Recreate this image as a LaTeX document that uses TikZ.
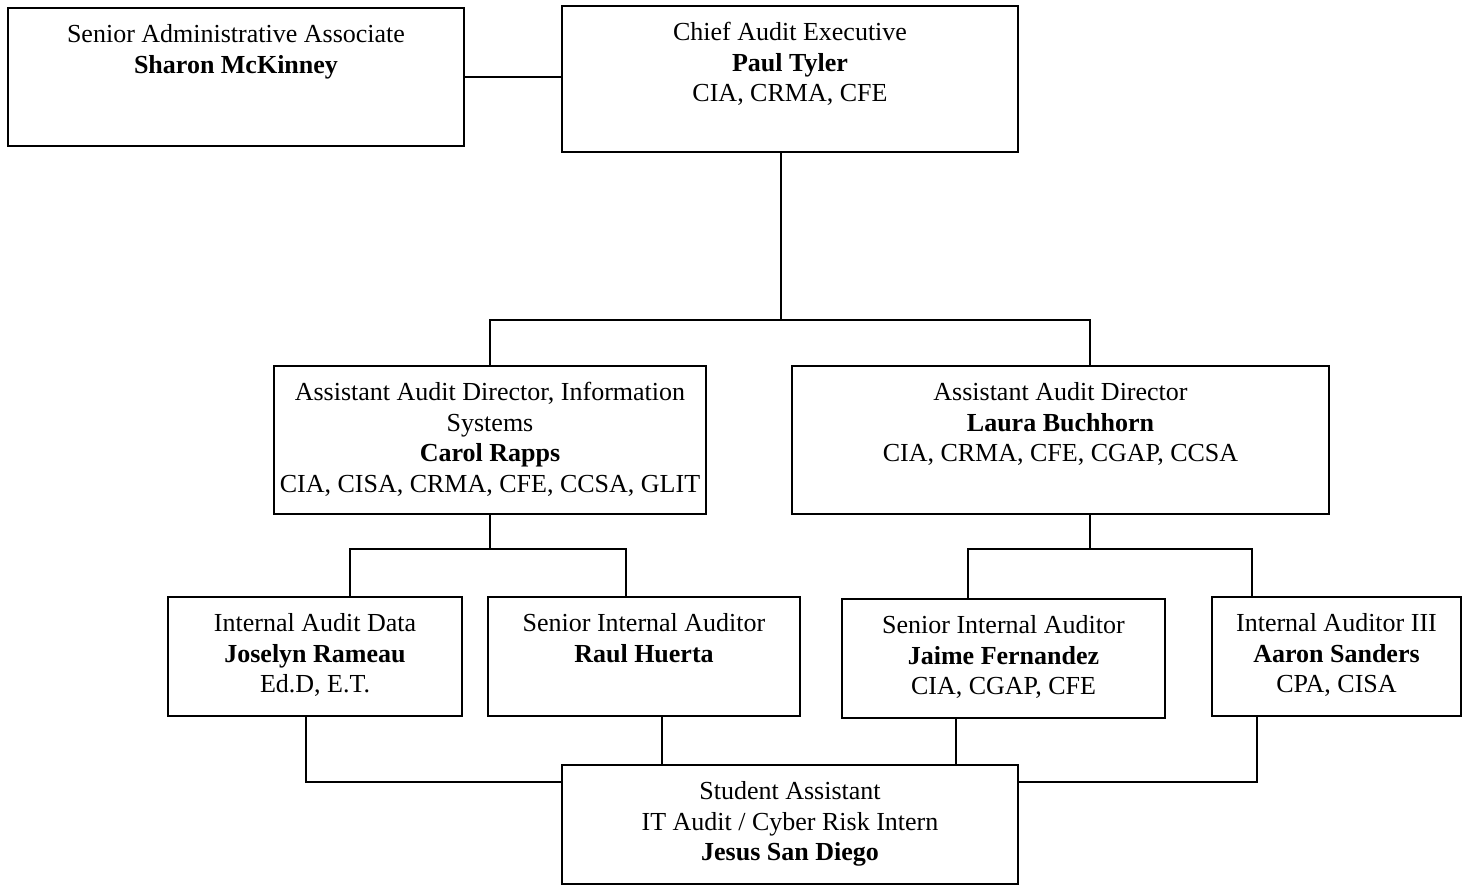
\documentclass[tikz,border=0pt]{standalone}
\usepackage{fontspec}
\setmainfont{Liberation Serif}
\newcommand\bxtext[3]{\parbox[c][#2][t]{#1}{\centering\fontsize{13pt}{15.2pt}\selectfont\rule{0pt}{17.5pt}#3\par}}
\begin{document}
\begin{tikzpicture}[x=0.5pt,y=-0.5pt,
  orgbox/.style={draw,line width=1pt,inner sep=0pt,outer sep=0pt},
  conn/.style={line width=0.9pt}]
\useasboundingbox (0,0) rectangle (1464,886);
% boxes
\node[orgbox] (A) at (236,77) {\bxtext{228pt}{69pt}{Senior Administrative Associate\\\textbf{Sharon McKinney}}};
\node[orgbox] (B) at (790,79) {\bxtext{228pt}{73pt}{Chief Audit Executive\\\textbf{Paul Tyler}\\CIA, CRMA, CFE}};
\node[orgbox] (C) at (490,440) {\bxtext{216pt}{74pt}{Assistant Audit Director, Information\\Systems\\\textbf{Carol Rapps}\\CIA, CISA, CRMA, CFE, CCSA, GLIT}};
\node[orgbox] (D) at (1060.5,440) {\bxtext{268.5pt}{74pt}{Assistant Audit Director\\\textbf{Laura Buchhorn}\\CIA, CRMA, CFE, CGAP, CCSA}};
\node[orgbox] (E) at (315,656.5) {\bxtext{147pt}{59.5pt}{Internal Audit Data\\\textbf{Joselyn Rameau}\\Ed.D, E.T.}};
\node[orgbox] (F) at (644,656.5) {\bxtext{156pt}{59.5pt}{Senior Internal Auditor\\\textbf{Raul Huerta}}};
\node[orgbox] (G) at (1003.5,658.5) {\bxtext{161.5pt}{59.5pt}{Senior Internal Auditor\\\textbf{Jaime Fernandez}\\CIA, CGAP, CFE}};
\node[orgbox] (H) at (1336.5,656.5) {\bxtext{124.5pt}{59.5pt}{Internal Auditor III\\\textbf{Aaron Sanders}\\CPA, CISA}};
\node[orgbox] (I) at (790,824.5) {\bxtext{228pt}{59.5pt}{Student Assistant\\IT Audit / Cyber Risk Intern\\\textbf{Jesus San Diego}}};
% helper coordinates
\coordinate (j1) at (0,320);
\coordinate (j2) at (0,549);
\coordinate (j4) at (0,782);
\coordinate (bbot) at ([xshift=-4.5pt]B.south);
\coordinate (dtop) at ([xshift=14.75pt]D.north);
\coordinate (dbot) at ([xshift=14.75pt]D.south);
\coordinate (etop) at ([xshift=17.5pt]E.north);
\coordinate (ftop) at ([xshift=-9pt]F.north);
\coordinate (gtop) at ([xshift=-17.75pt]G.north);
\coordinate (htop) at ([xshift=-42.25pt]H.north);
\coordinate (ebot) at ([xshift=-4.5pt]E.south);
\coordinate (fbot) at ([xshift=9pt]F.south);
\coordinate (gbot) at ([xshift=-23.75pt]G.south);
\coordinate (hbot) at ([xshift=-39.75pt]H.south);
% connectors
\draw[conn] (A.east) -- (A.east -| B.west);
\draw[conn] (bbot) -- (bbot |- j1);
\draw[conn] (C.north) |- (dtop |- j1) -- (dtop);
\draw[conn] (C.south) -- (C.south |- j2);
\draw[conn] (etop) |- (ftop |- j2) -- (ftop);
\draw[conn] (dbot) -- (dbot |- j2);
\draw[conn] (gtop) |- (htop |- j2) -- (htop);
\draw[conn] (ebot) |- (I.west |- j4);
\draw[conn] (fbot) -- (fbot |- I.north);
\draw[conn] (gbot) -- (gbot |- I.north);
\draw[conn] (hbot) |- (I.east |- j4);
\end{tikzpicture}
\end{document}
